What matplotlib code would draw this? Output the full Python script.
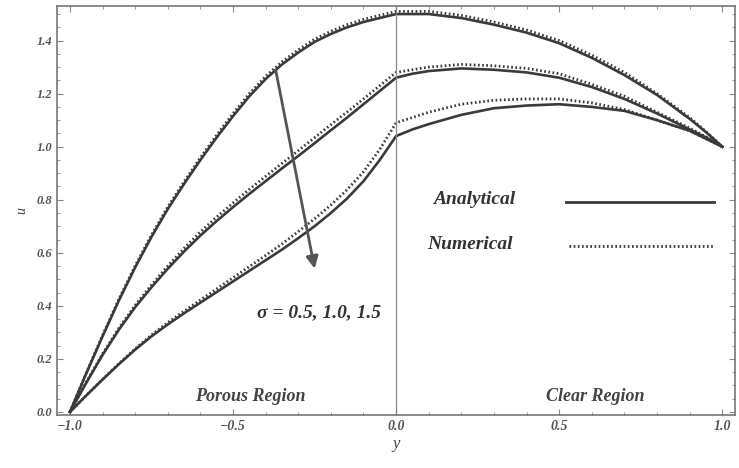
import matplotlib
matplotlib.use("Agg")
import matplotlib.pyplot as plt
import numpy as np

y_pts = [-1.0, -0.95, -0.9, -0.85, -0.8, -0.75, -0.7, -0.65, -0.6, -0.55, -0.5,
         -0.45, -0.4, -0.35, -0.3, -0.25, -0.2, -0.15, -0.1, -0.05, 0.0,
         0.05, 0.1, 0.2, 0.3, 0.4, 0.5, 0.6, 0.7, 0.8, 0.9, 0.95, 1.0]

# sigma = 0.5
ana_05 = [0.0, 0.145, 0.285, 0.42, 0.545, 0.66, 0.765, 0.86, 0.95, 1.035, 1.115,
          1.19, 1.255, 1.31, 1.355, 1.395, 1.425, 1.45, 1.47, 1.485, 1.50,
          1.50, 1.50, 1.485, 1.46, 1.43, 1.39, 1.335, 1.27, 1.195, 1.105, 1.055, 1.0]
num_05 = [0.0, 0.147, 0.289, 0.425, 0.551, 0.667, 0.773, 0.868, 0.959, 1.044, 1.125,
          1.20, 1.265, 1.32, 1.365, 1.405, 1.435, 1.46, 1.48, 1.495, 1.51,
          1.51, 1.51, 1.495, 1.47, 1.44, 1.40, 1.345, 1.28, 1.20, 1.11, 1.057, 1.0]
# sigma = 1.0
ana_10 = [0.0, 0.11, 0.215, 0.31, 0.395, 0.47, 0.54, 0.605, 0.665, 0.72, 0.772,
          0.822, 0.87, 0.918, 0.965, 1.013, 1.062, 1.11, 1.16, 1.21, 1.26,
          1.275, 1.285, 1.295, 1.29, 1.28, 1.26, 1.225, 1.18, 1.125, 1.065, 1.035, 1.0]
num_10 = [0.0, 0.112, 0.219, 0.316, 0.402, 0.479, 0.55, 0.617, 0.679, 0.735, 0.788,
          0.839, 0.888, 0.937, 0.985, 1.034, 1.083, 1.131, 1.18, 1.23, 1.28,
          1.29, 1.30, 1.31, 1.305, 1.295, 1.275, 1.235, 1.19, 1.13, 1.07, 1.037, 1.0]
# sigma = 1.5
ana_15 = [0.0, 0.062, 0.122, 0.18, 0.235, 0.285, 0.33, 0.372, 0.412, 0.452, 0.492,
          0.532, 0.572, 0.612, 0.655, 0.70, 0.75, 0.805, 0.87, 0.95, 1.04,
          1.065, 1.085, 1.12, 1.145, 1.155, 1.16, 1.15, 1.135, 1.10, 1.06, 1.03, 1.0]
num_15 = [0.0, 0.062, 0.123, 0.182, 0.238, 0.29, 0.337, 0.38, 0.422, 0.464, 0.506,
          0.548, 0.59, 0.633, 0.68, 0.728, 0.78, 0.838, 0.905, 0.99, 1.09,
          1.11, 1.13, 1.16, 1.175, 1.18, 1.18, 1.165, 1.14, 1.10, 1.06, 1.03, 1.0]

xticks = [-1.0, -0.5, 0.0, 0.5, 1.0]
xtick_labels = ["\u22121.0", "\u22120.5", "0.0", "0.5", "1.0"]
yticks = [0.0, 0.2, 0.4, 0.6, 0.8, 1.0, 1.2, 1.4]
ytick_labels = ["0.0", "0.2", "0.4", "0.6", "0.8", "1.0", "1.2", "1.4"]

col = "#3a3a3a"
fnt = dict(family="Liberation Serif", weight="bold", style="italic")

fig = plt.figure(figsize=(7.39, 4.68), dpi=100)
ax = fig.add_axes([0.077, 0.113, 0.918, 0.874])

for ana, num in [(ana_05, num_05), (ana_10, num_10), (ana_15, num_15)]:
    ax.plot(y_pts, ana, color=col, lw=1.9, solid_joinstyle="round")
    ax.plot(y_pts, num, color=col, lw=2.0, ls=(0, (0.6, 0.9)))

ax.axvline(0.0, color="#888888", lw=0.9)

ax.set_xlim(-1.04, 1.04)
ax.set_ylim(-0.012, 1.53)
ax.set_xticks(xticks)
ax.set_xticklabels(xtick_labels, color="#555555", fontsize=10, **fnt)
ax.set_yticks(yticks)
ax.set_yticklabels(ytick_labels, color="#555555", fontsize=9, **fnt)
ax.minorticks_on()
ax.tick_params(which="both", direction="in", color="#888888", top=True, right=True)
ax.tick_params(which="major", length=4)
ax.tick_params(which="minor", length=2)
for s in ax.spines.values():
    s.set_color("#777777")
    s.set_linewidth(1.2)

ax.set_xlabel("y", fontsize=12, color="#444444", family="Liberation Serif", style="italic", labelpad=2)
ax.set_ylabel("u", fontsize=10, color="#444444", family="Liberation Serif", style="italic", labelpad=6)

# arrow across the three profiles
ax.annotate("", xy=(-0.248, 0.53), xytext=(-0.371, 1.30),
            arrowprops=dict(arrowstyle="-|>", color="#555555", lw=2.0, mutation_scale=18))

ax.text(-0.235, 0.374, "\u03c3 = 0.5, 1.0, 1.5", ha="center", va="center", fontsize=14, color="#333333", **fnt)
ax.text(-0.448, 0.06, "Porous Region", ha="center", va="center", fontsize=13, color="#444444", **fnt)
ax.text(0.61, 0.06, "Clear Region", ha="center", va="center", fontsize=13, color="#444444", **fnt)

# legend drawn by hand, as in the original
ax.text(0.24, 0.80, "Analytical", ha="center", va="center", fontsize=14, color="#333333", **fnt)
ax.text(0.227, 0.63, "Numerical", ha="center", va="center", fontsize=14, color="#333333", **fnt)
ax.plot([0.52, 0.975], [0.79, 0.79], color=col, lw=2.0)
ax.plot([0.53, 0.975], [0.626, 0.626], color=col, lw=2.0, ls=(0, (0.6, 0.9)))

fig.savefig("out.png", dpi=100)
